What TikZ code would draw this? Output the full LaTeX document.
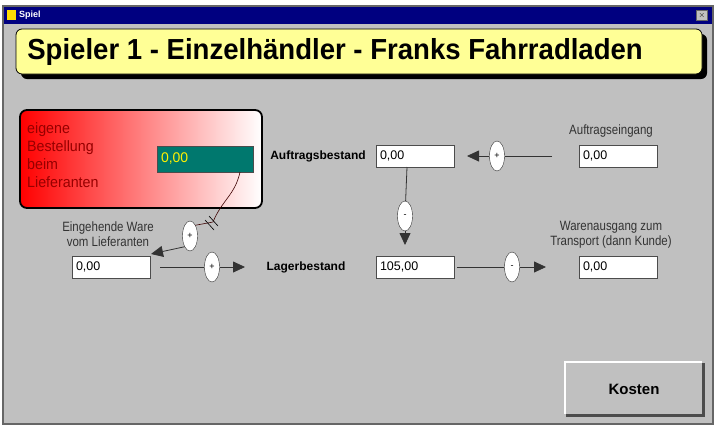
\documentclass[tikz,border=0pt]{standalone}
\usepackage{fontspec}
\setmainfont{Liberation Sans}
\usetikzlibrary{arrows.meta,shapes.geometric}
\definecolor{winbg}{RGB}{192,192,192}
\definecolor{titlebar}{RGB}{0,0,128}
\definecolor{teal}{RGB}{0,120,110}
\definecolor{yel}{RGB}{255,255,150}
\definecolor{dred}{RGB}{150,0,0}
\tikzset{
  valbox/.style={draw=black!70,fill=white,minimum width=78pt,minimum height=22pt,inner sep=3pt,text width=70pt,align=left,font=\fontsize{12.5}{14}\selectfont},
  lbl/.style={font=\fontsize{13.5}{15}\selectfont,text=black!80,align=center,inner sep=0,xscale=0.85},
  blbl/.style={font=\bfseries\fontsize{12}{14}\selectfont,inner sep=0},
  sign/.style={ellipse,draw=black!80,fill=white,minimum width=15pt,minimum height=30pt,inner sep=0,font=\fontsize{9}{9}\selectfont},
  flow/.style={draw=black!80,line width=0.8pt},
  tip/.style={-{Triangle[length=12pt,width=11pt]}}
}
\begin{document}
\begin{tikzpicture}[x=1pt,y=-1pt]
\useasboundingbox (0,0) rectangle (719,429);
\fill[white] (0,0) rectangle (719,429);
% window
\fill[winbg] (3,6) rectangle (713,424);
\draw[black!60,line width=1.5pt] (3,6) rectangle (713,424);
\fill[titlebar] (4,7) rectangle (712,24);
\fill[yellow!80!orange] (7,10) rectangle (16,20);
\node[anchor=west,text=white,font=\bfseries\fontsize{9}{9}\selectfont,inner sep=0] (ttl) at (19,15) {Spiel};
\node[draw=black!60,fill=winbg,minimum width=11pt,minimum height=10pt,inner sep=0,font=\fontsize{8}{8}\selectfont] (close) at (702,15) {$\times$};
% title box
\fill[black,rounded corners=6pt] (21,34) rectangle (707,79);
\draw[fill=yel,rounded corners=6pt,line width=0.8pt] (16,29) rectangle (702,74);
\node[font=\bfseries\fontsize{29}{32}\selectfont,xscale=0.95,anchor=west] (head) at (24,52) {Spieler 1 - Einzelhändler - Franks Fahrradladen};
% red box
\shade[left color=red,right color=white,rounded corners=7pt] (20,110) rectangle (262,208);
\draw[line width=1.8pt,rounded corners=7pt] (20,110) rectangle (262,208);
\node[anchor=north west,align=left,text=dred,font=\fontsize{15}{18}\selectfont,inner sep=0,xscale=0.95] (eig) at (27,122) {eigene\\Bestellung\\beim\\Lieferanten};
\node[draw=black!70,fill=teal,minimum width=96pt,minimum height=26pt,text width=88pt,align=left,text=yellow,font=\fontsize{14}{16}\selectfont,inner sep=3pt] (best) at (205,159) {0,00};
% labels and boxes
\node[lbl] (ewlab) at (108,234) {Eingehende Ware\\vom Lieferanten};
\node[valbox] (ew) at (111,267) {0,00};
\node[blbl] (lagl) at (306,267) {Lagerbestand};
\node[valbox] (lag) at (415,267) {105,00};
\node[blbl] (aufl) at (318,156) {Auftragsbestand};
\node[valbox] (auf) at (415,156) {0,00};
\node[lbl] (aelab) at (611,131) {Auftragseingang};
\node[valbox] (ae) at (618,156) {0,00};
\node[lbl] (walab) at (611,235) {Warenausgang zum\\Transport (dann Kunde)};
\node[valbox] (wa) at (618,267) {0,00};
% flow signs
\node[sign] (s1) at (190,236) {+};
\node[sign] (s2) at (212,267) {+};
\node[sign] (s3) at (405,216) {-};
\node[sign] (s4) at (497,156) {+};
\node[sign] (s5) at (512,267) {-};
\coordinate (h1) at (213,222);
% connectors
\draw[black!60!red!60!black,line width=0.6pt] (240,172) .. controls (235,195) and (222,200) .. (h1) -- (s1.north east);
\draw[line width=0.6pt] (205,220) -- (214,230) (209,216) -- (218,226);
\draw[flow,tip] (s1.south west) -- (151,254);
\draw[flow] (160,267) -- (s2);
\draw[flow,tip] (s2) -- (245,267);
\draw[flow] (407,167) -- (s3);
\draw[flow,tip] (s3) -- (405,245);
\draw[flow] (552,156) -- (s4);
\draw[flow,tip] (s4) -- (467,156);
\draw[flow] (457,267) -- (s5);
\draw[flow,tip] (s5) -- (546,267);
% Kosten button
\fill[black!70] (566,363) rectangle (705,417);
\fill[white] (564,361) rectangle (702,414);
\fill[winbg] (566,363) rectangle (702,414);
\node[font=\bfseries\fontsize{15}{17}\selectfont] (kost) at (634,389) {Kosten};
\end{tikzpicture}
\end{document}
